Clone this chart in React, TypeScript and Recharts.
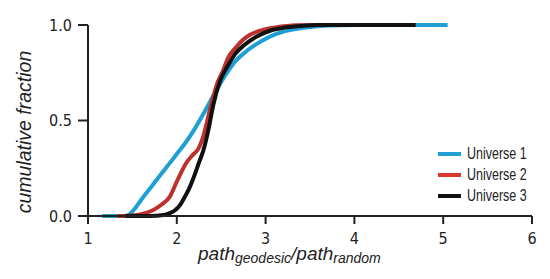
import { Line, LineChart, XAxis, YAxis } from "recharts";

// values (cumulative fraction vs path ratio)
const u1X = [1.16, 1.3, 1.42, 1.47, 1.53, 1.6, 1.7, 1.8, 1.9, 2.0, 2.1, 2.2, 2.3, 2.4, 2.51, 2.58, 2.66, 2.79, 2.95, 3.1, 3.26, 3.5, 3.7, 4.0, 4.5, 5.05];
const u1Y = [0, 0, 0, 0.01, 0.04, 0.085, 0.145, 0.205, 0.265, 0.325, 0.385, 0.455, 0.535, 0.62, 0.71, 0.76, 0.81, 0.865, 0.915, 0.95, 0.972, 0.99, 0.998, 1, 1, 1];

const u2X = [1.33, 1.5, 1.6, 1.73, 1.83, 1.92, 2.01, 2.11, 2.18, 2.24, 2.3, 2.38, 2.46, 2.52, 2.58, 2.66, 2.74, 2.82, 2.95, 3.08, 3.2, 3.35, 3.6, 4.3];
const u2Y = [0, 0.003, 0.01, 0.03, 0.06, 0.1, 0.19, 0.28, 0.32, 0.35, 0.42, 0.57, 0.7, 0.76, 0.83, 0.88, 0.92, 0.948, 0.972, 0.985, 0.993, 0.999, 1, 1];

const u3X = [1.42, 1.7, 1.85, 1.92, 1.98, 2.04, 2.09, 2.14, 2.18, 2.25, 2.3, 2.36, 2.41, 2.49, 2.58, 2.66, 2.76, 2.9, 3.05, 3.2, 3.4, 3.6, 4.0, 4.69];
const u3Y = [0, 0, 0.005, 0.015, 0.03, 0.06, 0.1, 0.145, 0.19, 0.28, 0.345, 0.46, 0.58, 0.71, 0.79, 0.85, 0.895, 0.94, 0.97, 0.985, 0.995, 1, 1, 1];

const xTicks = [1, 2, 3, 4, 5, 6];
const yTicks = [0, 0.5, 1];

const series = [
  { name: "Universe 1", color: "#1f9fd4", xs: u1X, ys: u1Y },
  { name: "Universe 2", color: "#bd312c", xs: u2X, ys: u2Y },
  { name: "Universe 3", color: "#111111", xs: u3X, ys: u3Y },
];

const legendColors = ["#1f9fd4", "#d8392c", "#111111"];

const tickFont = { fontFamily: "DejaVu Sans", fontStretch: "condensed", fontSize: 16, fill: "#222" };

function XTitle() {
  return (
    <text x={198} y={260} fill="#222" fontFamily="Liberation Sans" fontStyle="italic" fontSize={19}>
      path
      <tspan fontSize={14} dy={3}>geodesic</tspan>
      <tspan dy={-3}>/path</tspan>
      <tspan fontSize={14} dy={3}>random</tspan>
    </text>
  );
}

function YTitle() {
  return (
    <text
      x={31}
      y={132}
      fill="#222"
      fontFamily="Liberation Sans"
      fontStyle="italic"
      fontSize={19.5}
      textAnchor="middle"
      transform="rotate(-90, 31, 132)"
    >
      cumulative fraction
    </text>
  );
}

function LegendBox() {
  return (
    <div style={{ position: "absolute", left: 438, top: 143, fontFamily: "Liberation Sans", fontSize: 16, color: "#222" }}>
      {series.map((s, i) => (
        <div key={s.name} style={{ display: "flex", alignItems: "center", height: 21 }}>
          <div style={{ width: 23, height: 4, background: legendColors[i], marginRight: 6 }} />
          <span style={{ display: "inline-block", transform: "scaleX(0.78)", transformOrigin: "left center", whiteSpace: "nowrap" }}>
            {s.name}
          </span>
        </div>
      ))}
    </div>
  );
}

export default function App() {
  return (
    <div style={{ margin: -8, width: 550, height: 279, background: "#fff", position: "relative" }}>
      <LineChart width={550} height={279} margin={{ top: 25, right: 18, bottom: 0, left: 0 }}>
        <XAxis
          type="number"
          dataKey="x"
          domain={[1, 6]}
          ticks={xTicks}
          allowDataOverflow
          height={63}
          tickSize={8}
          tickMargin={9}
          tick={tickFont}
          stroke="#222"
          strokeWidth={2}
          label={<XTitle />}
        />
        <YAxis
          type="number"
          domain={[0, 1]}
          ticks={yTicks}
          width={88}
          tickSize={10}
          tickMargin={6}
          tick={tickFont}
          tickFormatter={(v: number) => v.toFixed(1)}
          stroke="#222"
          strokeWidth={2}
          label={<YTitle />}
        />
        {series.map((s) => (
          <Line
            key={s.name}
            name={s.name}
            data={s.xs.map((x, i) => ({ x, y: s.ys[i] }))}
            dataKey="y"
            type="monotone"
            stroke={s.color}
            strokeWidth={4}
            dot={false}
            activeDot={false}
            isAnimationActive={false}
          />
        ))}
      </LineChart>
      <LegendBox />
    </div>
  );
}
